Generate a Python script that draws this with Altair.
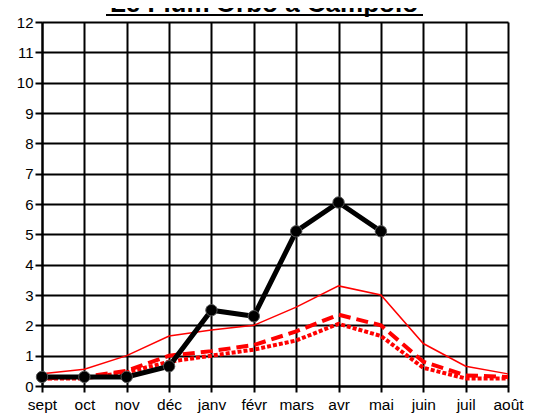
import altair as alt
import pandas as pd

months = ["sept", "oct", "nov", "déc", "janv", "févr", "mars", "avr", "mai", "juin", "juil", "août"]
observed = [0.3, 0.3, 0.3, 0.65, 2.5, 2.3, 5.1, 6.05, 5.1]
red_solid = [0.4, 0.55, 1.0, 1.65, 1.85, 2.0, 2.6, 3.3, 3.0, 1.4, 0.65, 0.4]
red_dashed = [0.25, 0.3, 0.5, 1.0, 1.15, 1.35, 1.8, 2.35, 2.0, 0.8, 0.35, 0.3]
red_dotted = [0.25, 0.25, 0.45, 0.8, 1.0, 1.2, 1.5, 2.05, 1.65, 0.6, 0.25, 0.25]
y_ticks = list(range(0, 13))
title_text = "Le Fium'Orbo à Campolo"

def frame(vals, name):
    return pd.DataFrame({"month": months[:len(vals)], "value": vals, "series": name})

df_obs = frame(observed, "obs")
df_solid = frame(red_solid, "solid")
df_dash = frame(red_dashed, "dash")
df_dot = frame(red_dotted, "dot")

xenc = alt.X("month:N", sort=months, scale=alt.Scale(type="point", padding=0),
             axis=alt.Axis(title=None, grid=True, gridColor="black", gridWidth=2, gridOpacity=1,
                           domainColor="black", domainWidth=2, tickColor="black", tickWidth=2,
                           tickSize=6, labelPadding=5, labelFont="Liberation Sans", labelFontSize=15.5,
                           labelColor="black", labelAngle=0))
yenc = alt.Y("value:Q", scale=alt.Scale(domain=[0, 12], nice=False),
             axis=alt.Axis(title=None, values=y_ticks, grid=True, gridColor="black", gridWidth=2,
                           gridOpacity=1, domainColor="black", domainWidth=2, tickColor="black",
                           tickWidth=2, tickSize=7, labelPadding=2, labelFont="Liberation Sans",
                           labelFontSize=15, labelColor="black"))

solid = alt.Chart(df_solid).mark_line(color="#ff0000", strokeWidth=1.5).encode(x=xenc, y=yenc)
dash = alt.Chart(df_dash).mark_line(color="#ff0000", strokeWidth=4, strokeDash=[12, 6]).encode(x=xenc, y=yenc)
dot = alt.Chart(df_dot).mark_line(color="#ff0000", strokeWidth=4, strokeDash=[4, 2]).encode(x=xenc, y=yenc)
obs_line = alt.Chart(df_obs).mark_line(color="black", strokeWidth=5).encode(x=xenc, y=yenc)
obs_pts = alt.Chart(df_obs).mark_circle(color="black", size=130, opacity=1, stroke="#555555", strokeWidth=1).encode(x=xenc, y=yenc)

title_df = pd.DataFrame({"t": [title_text]})
title = alt.Chart(title_df).mark_text(font="Liberation Sans", fontSize=26, fontWeight="bold",
                                      color="black", align="center", baseline="alphabetic").encode(
    text="t:N", x=alt.value(222), y=alt.value(-10))
underline = alt.Chart(title_df).mark_rule(color="black", strokeWidth=2).encode(
    x=alt.value(64), x2=alt.value(381), y=alt.value(-7))

chart = alt.layer(solid, dash, dot, obs_line, obs_pts, title, underline).properties(
    width=466, height=364,
    autosize=alt.AutoSizeParams(type="none"),
    padding={"left": 34, "top": 14, "right": 21, "bottom": 30},
).configure_view(stroke="black", strokeWidth=2).configure(background="white")

chart.save("out.html", embed_options={"renderer": "svg", "actions": False})
